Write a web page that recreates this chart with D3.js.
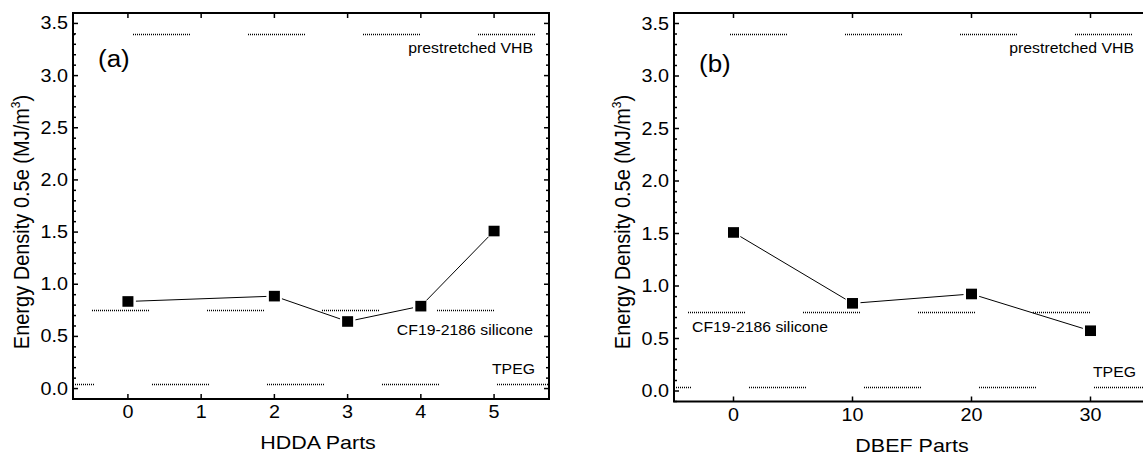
<!DOCTYPE html>
<meta charset="utf-8">
<style>
  body { margin: 0; background: #fff; }
  svg { display: block; }
  text { font-family: "Liberation Sans", Arial, sans-serif; fill: #000; }
  .frame { fill: none; stroke: #000; stroke-width: 2; }
  .tick { stroke: #000; stroke-width: 1.5; }
  .ref { stroke: #000; stroke-width: 1.3; fill: none; }
  .conn { stroke: #000; stroke-width: 1; fill: none; }
</style>
<script src="https://cdnjs.cloudflare.com/ajax/libs/d3/7.8.5/d3.min.js"></script>
<div id="chart"></div>
<script>
  // data
  const hddaParts = [0, 2, 3, 4, 5];
  const hddaEnergy = [0.835, 0.886, 0.643, 0.79, 1.51];
  const dbefParts = [0, 10, 20, 30];
  const dbefEnergy = [1.51, 0.835, 0.924, 0.574];
  const refValues = [3.4, 0.75, 0.04];
  const refLabels = ["prestretched VHB", "CF19-2186 silicone", "TPEG"];
  const hddaTicks = [0, 1, 2, 3, 4, 5];
  const dbefTicks = [0, 10, 20, 30];
  const yTicks = [0, 0.5, 1.0, 1.5, 2.0, 2.5, 3.0, 3.5];
  const yMinor = d3.range(-1, 36).map(d => d / 10);

  const SX = 1.13; // the picture is a bit wider than tall
  const W = 1143, H = 456;

  const svg = d3.select("#chart").append("svg")
    .attr("width", W).attr("height", H);

  svg.append("defs").append("clipPath").attr("id", "pageclip")
    .append("rect").attr("width", W).attr("height", H);

  function stretchText(g, x, y, str, size, anchor) {
    return g.append("text")
      .attr("transform", `translate(${x},${y}) scale(${SX},1)`)
      .attr("text-anchor", anchor)
      .style("font-size", size + "px")
      .text(str);
  }

  function drawPanel(p) {
    const g = svg.append("g").attr("clip-path", "url(#pageclip)");
    const x = d3.scaleLinear().domain(p.xDomain).range([p.left, p.right]);
    const y = d3.scaleLinear().domain([-0.1, 3.6]).range([p.bottom, p.top]);

    // dotted reference lines, drawn in dashed groups of dots
    const dash = [];
    for (let i = 0; i < 28; i++) dash.push(1, 1);
    dash.push(1, 58);
    const clipId = "clip" + p.name;
    g.append("clipPath").attr("id", clipId)
      .append("rect").attr("x", p.left).attr("y", p.top)
      .attr("width", p.right - p.left).attr("height", p.bottom - p.top);
    g.append("g").attr("clip-path", `url(#${clipId})`)
      .selectAll("line").data(refValues).join("line")
      .attr("class", "ref")
      .attr("x1", x(p.xDomain[0])).attr("x2", x(p.xDomain[1]))
      .attr("y1", d => Math.round(y(d)) + 0.5).attr("y2", d => Math.round(y(d)) + 0.5)
      .attr("stroke-dasharray", dash.join(","))
      .attr("stroke-dashoffset", (d, i) => p.phase[i]);

    // connecting line, with a little gap at each symbol
    const pts = p.xs.map((v, i) => [x(v), y(p.ys[i])]);
    const segs = d3.pairs(pts).map(([a, b]) => {
      const dx = b[0] - a[0], dy = b[1] - a[1];
      const len = Math.hypot(dx, dy), k = 8 / len;
      return [a[0] + dx * k, a[1] + dy * k, b[0] - dx * k, b[1] - dy * k];
    });
    g.selectAll(".conn").data(segs).join("line")
      .attr("class", "conn")
      .attr("x1", d => d[0]).attr("y1", d => d[1])
      .attr("x2", d => d[2]).attr("y2", d => d[3]);

    // square symbols
    g.selectAll(".sym").data(pts).join("rect")
      .attr("class", "sym")
      .attr("x", d => d[0] - 5.5).attr("y", d => d[1] - 5.3)
      .attr("width", 11).attr("height", 10.6)
      .attr("fill", "#000");

    // frame
    g.append("rect").attr("class", "frame")
      .attr("x", p.left).attr("y", p.top)
      .attr("width", p.right - p.left).attr("height", p.bottom - p.top);

    // ticks (all pointing inward)
    p.xTicks.forEach(t => {
      g.append("line").attr("class", "tick")
        .attr("x1", x(t)).attr("x2", x(t)).attr("y1", p.bottom).attr("y2", p.bottom - 5);
      g.append("line").attr("class", "tick")
        .attr("x1", x(t)).attr("x2", x(t)).attr("y1", p.top).attr("y2", p.top + 5);
      stretchText(g, x(t), p.bottom + 19, String(t), 17.5, "middle");
    });
    yMinor.forEach(t => {
      const major = yTicks.some(v => Math.abs(v - t) < 1e-9);
      const len = major ? 5 : 3;
      g.append("line").attr("class", "tick")
        .attr("x1", p.left).attr("x2", p.left + len).attr("y1", y(t)).attr("y2", y(t));
      g.append("line").attr("class", "tick")
        .attr("x1", p.right).attr("x2", p.right - len).attr("y1", y(t)).attr("y2", y(t));
    });
    yTicks.forEach(t => {
      stretchText(g, p.left - 5, y(t) + 6, d3.format(".1f")(t), 17.5, "end");
    });

    // axis titles
    stretchText(g, p.xTitleX, p.bottom + 50, p.xTitle, 19, "middle");
    const yt = g.append("text")
      .attr("transform", `translate(${p.left - 44},${p.yTitleMid}) scale(${SX},1) rotate(-90)`)
      .attr("text-anchor", "middle")
      .style("font-size", "20px");
    yt.append("tspan").text("Energy Density 0.5e (MJ/m");
    yt.append("tspan").attr("dy", -8).style("font-size", "12px").text("3");
    yt.append("tspan").attr("dy", 8).text(")");

    // panel letter
    stretchText(g, p.left + 25, p.letterY, p.letter, 23, "start");

    // reference labels
    stretchText(g, p.right - 16, y(refValues[0]) + 19, refLabels[0], 14, "end");
    if (p.siliconeLeft) {
      stretchText(g, p.left + 18, y(refValues[1]) + 20, refLabels[1], 14, "start");
    } else {
      stretchText(g, p.right - 16, y(refValues[1]) + 25, refLabels[1], 14, "end");
    }
    stretchText(g, p.right - 14, y(refValues[2]) - 10, refLabels[2], 14, "end");
  }

  drawPanel({
    name: "a", left: 73, right: 549, top: 13, bottom: 399,
    xDomain: [-0.75, 5.75], xs: hddaParts, ys: hddaEnergy, xTicks: hddaTicks,
    xTitle: "HDDA Parts", xTitleX: 318, letter: "(a)", letterY: 67, yTitleMid: 222,
    phase: [55, 96, 36], siliconeLeft: false
  });
  drawPanel({
    name: "b", left: 674, right: 1150, top: 13, bottom: 401.5,
    xDomain: [-5, 35], xs: dbefParts, ys: dbefEnergy, xTicks: dbefTicks,
    xTitle: "DBEF Parts", xTitleX: 912, letter: "(b)", letterY: 72, yTitleMid: 222,
    phase: [59, 101, 40], siliconeLeft: true
  });
</script>
